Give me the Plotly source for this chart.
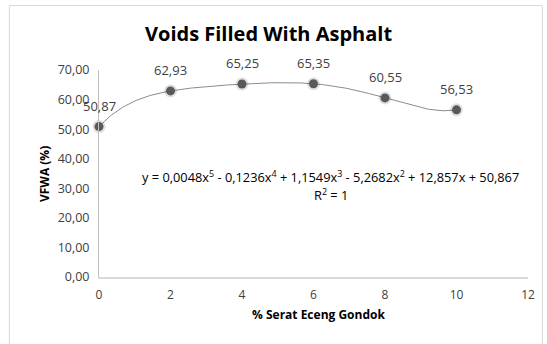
import numpy as np
import plotly.graph_objects as go

x_vals = [0, 2, 4, 6, 8, 10]
y_vals = [50.87, 62.93, 65.25, 65.35, 60.55, 56.53]
labels = ["50,87", "62,93", "65,25", "65,35", "60,55", "56,53"]
x_ticks = [0, 2, 4, 6, 8, 10, 12]
y_ticks = [0, 10, 20, 30, 40, 50, 60, 70]

W, H = 547, 344
L, R, T, B = 99, 532, 70, 277

# 5th-order polynomial trendline fitted to the data (as Excel does)
coef = np.polyfit(x_vals, y_vals, 5)
xs = np.linspace(0, 10, 200)
ys = np.polyval(coef, xs)

FONT = "Open Sans"

fig = go.Figure()
fig.add_trace(go.Scatter(x=xs, y=ys, mode="lines",
                         line=dict(color="#8c8c8c", width=1), hoverinfo="skip",
                         showlegend=False, cliponaxis=False))
# soft marker shadow
fig.add_trace(go.Scatter(x=x_vals, y=y_vals, mode="markers",
                         marker=dict(color="rgba(0,0,0,0.12)", size=13),
                         hoverinfo="skip", showlegend=False, cliponaxis=False))
fig.add_trace(go.Scatter(x=x_vals, y=y_vals, mode="markers",
                         marker=dict(color="#595959", size=9),
                         showlegend=False, cliponaxis=False))

for xv, yv, lab in zip(x_vals, y_vals, labels):
    fig.add_annotation(x=xv, y=yv, text=lab, showarrow=False, yshift=21,
                       font=dict(family=FONT, size=13, color="#404040"))

def px_x(p):
    return (p - L) / (R - L)

def px_y(p):
    return (B - p) / (B - T)

fig.add_shape(type="rect", xref="paper", yref="paper",
              x0=px_x(8.5), x1=px_x(546.5), y0=px_y(352), y1=px_y(5.5),
              line=dict(color="#d9d9d9", width=1), layer="below")

fig.add_annotation(text="<b>Voids Filled With Asphalt</b>", xref="paper", yref="paper",
                   x=px_x(270), y=px_y(34), showarrow=False, yanchor="middle",
                   font=dict(family=FONT, size=20, color="#000000"))
fig.add_annotation(text="<b>VFWA (%)</b>", xref="paper", yref="paper",
                   x=px_x(33), y=px_y(174), showarrow=False, textangle=-90,
                   font=dict(family=FONT, size=12, color="#000000"))
fig.add_annotation(text="<b>% Serat Eceng Gondok</b>", xref="paper", yref="paper",
                   x=px_x(321), y=px_y(314), showarrow=False, yanchor="middle",
                   font=dict(family=FONT, size=12, color="#000000"))
fig.add_annotation(text="y = 0,0048x<sup>5</sup> - 0,1236x<sup>4</sup> + 1,1549x<sup>3</sup> - 5,2682x<sup>2</sup> + 12,857x + 50,867",
                   xref="paper", yref="paper", x=px_x(333), y=px_y(176), showarrow=False,
                   yanchor="middle", font=dict(family=FONT, size=12.8, color="#000000"))
fig.add_annotation(text="R<sup>2</sup> = 1", xref="paper", yref="paper",
                   x=px_x(333), y=px_y(194), showarrow=False, yanchor="middle",
                   font=dict(family=FONT, size=12.8, color="#000000"))

fig.update_layout(
    width=W, height=H,
    margin=dict(l=L, r=W - R, t=T, b=H - B, pad=0),
    paper_bgcolor="white", plot_bgcolor="white",
    separators=",.",
    showlegend=False,
    xaxis=dict(range=[0, 12], tickvals=x_ticks, showgrid=False, zeroline=False,
               showline=True, linecolor="#d9d9d9", linewidth=1.5, ticks="",
               ticklabelstandoff=6,
               tickfont=dict(family=FONT, size=12, color="#404040")),
    yaxis=dict(range=[0, 70], tickvals=y_ticks, tickformat=".2f", showgrid=False,
               zeroline=False, showline=True, linecolor="#bfbfbf", linewidth=1,
               ticks="", ticklabelstandoff=6,
               tickfont=dict(family=FONT, size=12.5, color="#404040")),
)

fig.write_html("out.html", config={"displayModeBar": False},
               post_script="document.body.style.margin='0';document.body.style.overflow='hidden';")
